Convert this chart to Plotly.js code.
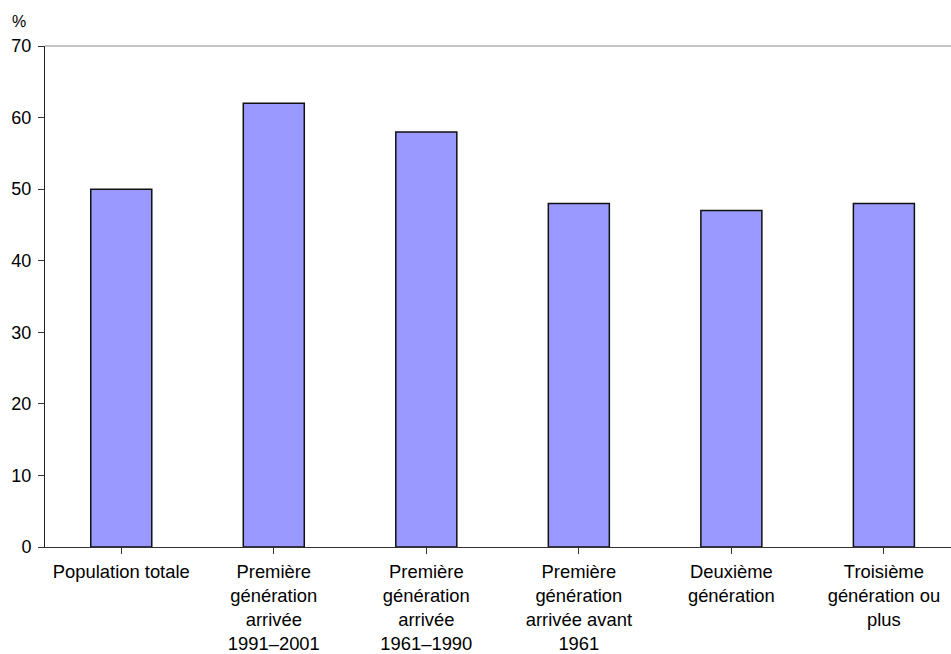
<!DOCTYPE html>
<html>
<head>
<meta charset="utf-8">
<script src="https://cdn.plot.ly/plotly-3.0.1.min.js"></script>
<style>
  html, body { margin: 0; padding: 0; background: #fff; }
  #chart { width: 951px; height: 654px; }
</style>
</head>
<body>
<div id="chart"></div>
<script>
// Share of each population group, in percent
const categories = [
  "Population totale",
  "Première<br>génération<br>arrivée<br>1991–2001",
  "Première<br>génération<br>arrivée<br>1961–1990",
  "Première<br>génération<br>arrivée avant<br>1961",
  "Deuxième<br>génération",
  "Troisième<br>génération ou<br>plus"
];
const values = [50, 62, 58, 48, 47, 48];
const yTicks = [0, 10, 20, 30, 40, 50, 60, 70];

const trace = {
  type: "bar",
  x: categories.map((c, i) => i),
  y: values,
  width: 0.4,
  marker: { color: "#9999FF", line: { color: "#111111", width: 1.5 } },
  hoverinfo: "skip"
};

const family = "Liberation Sans, Arial, sans-serif";
const font = { family: family, size: 18, color: "#000" };
const catFont = { family: family, size: 18.4, color: "#000" };

const layout = {
  width: 951,
  height: 654,
  margin: { l: 45, r: 0, t: 46, b: 107, pad: 0 },
  paper_bgcolor: "#fff",
  plot_bgcolor: "#fff",
  showlegend: false,
  font: font,
  xaxis: {
    range: [-0.5, 5.44],
    tickmode: "array",
    tickvals: categories.map((c, i) => i),
    ticktext: categories,
    tickson: "boundaries",
    ticks: "outside",
    ticklen: 6,
    tickcolor: "#333",
    showline: true,
    linecolor: "#333",
    linewidth: 1,
    showgrid: false,
    zeroline: false,
    tickfont: catFont,
    ticklabelstandoff: 2,
    fixedrange: true
  },
  yaxis: {
    range: [0, 70],
    tickmode: "array",
    tickvals: yTicks,
    ticks: "outside",
    ticklen: 6,
    tickcolor: "#333",
    showline: true,
    linecolor: "#222",
    linewidth: 1,
    showgrid: false,
    zeroline: false,
    tickfont: font,
    ticklabelstandoff: 3,
    fixedrange: true
  },
  shapes: [
    { type: "line", xref: "paper", yref: "paper", x0: 0, x1: 1, y0: 1, y1: 1,
      line: { color: "#888", width: 1 } }
  ],
  annotations: [
    { text: "%", xref: "paper", yref: "paper", x: -0.0287, y: 1.048,
      xanchor: "center", yanchor: "middle", showarrow: false,
      font: { family: family, size: 16, color: "#000" } }
  ]
};

Plotly.newPlot("chart", [trace], layout, { displayModeBar: false, staticPlot: true });
</script>
</body>
</html>
